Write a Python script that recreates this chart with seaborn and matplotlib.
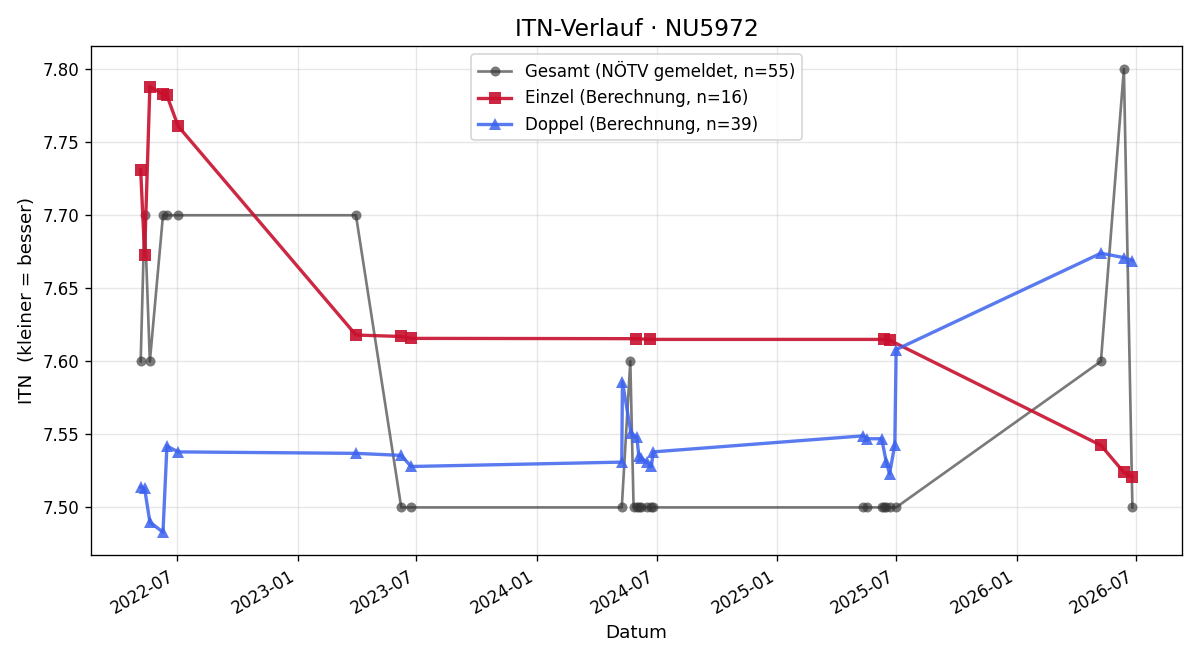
import pandas as pd
import matplotlib
matplotlib.use("Agg")
import matplotlib.pyplot as plt
import matplotlib.dates as mdates
import seaborn as sns

gesamt_dates = ["2022-05-07", "2022-05-13", "2022-05-21", "2022-06-10", "2022-06-16", "2022-07-03",
                "2023-03-31", "2023-06-08", "2023-06-23",
                "2024-05-09", "2024-05-22", "2024-05-27", "2024-06-01", "2024-06-04", "2024-06-08",
                "2024-06-16", "2024-06-22", "2024-06-26",
                "2025-05-12", "2025-05-18", "2025-06-09", "2025-06-13", "2025-06-16", "2025-06-21",
                "2025-07-01",
                "2026-05-09", "2026-06-13", "2026-06-26"]
gesamt_itn = [7.60, 7.70, 7.60, 7.70, 7.70, 7.70,
              7.70, 7.50, 7.50,
              7.50, 7.60, 7.50, 7.50, 7.50, 7.50,
              7.50, 7.50, 7.50,
              7.50, 7.50, 7.50, 7.50, 7.50, 7.50,
              7.50,
              7.60, 7.80, 7.50]

einzel_dates = ["2022-05-07", "2022-05-13", "2022-05-21", "2022-06-10", "2022-06-16", "2022-07-03",
                "2023-03-31", "2023-06-08", "2023-06-23",
                "2024-05-31", "2024-06-21",
                "2025-06-13", "2025-06-21",
                "2026-05-09", "2026-06-13", "2026-06-26"]
einzel_itn = [7.731, 7.673, 7.788, 7.783, 7.782, 7.761,
              7.618, 7.617, 7.6157,
              7.6155, 7.615,
              7.615, 7.6145,
              7.5425, 7.524, 7.521]

doppel_dates = ["2022-05-07", "2022-05-13", "2022-05-21", "2022-06-10", "2022-06-16", "2022-07-03",
                "2023-03-31", "2023-06-08", "2023-06-23",
                "2024-05-09", "2024-05-10", "2024-05-23", "2024-06-01", "2024-06-04", "2024-06-08",
                "2024-06-16", "2024-06-23", "2024-06-26",
                "2025-05-12", "2025-05-18", "2025-06-09", "2025-06-16", "2025-06-21", "2025-06-29",
                "2025-07-01",
                "2026-05-09", "2026-06-13", "2026-06-26"]
doppel_itn = [7.514, 7.513, 7.490, 7.483, 7.542, 7.538,
              7.537, 7.5356, 7.528,
              7.531, 7.586, 7.551, 7.548, 7.535, 7.534,
              7.531, 7.528, 7.538,
              7.549, 7.547, 7.547, 7.531, 7.523, 7.543,
              7.608,
              7.674, 7.671, 7.669]

df_g = pd.DataFrame({"datum": pd.to_datetime(gesamt_dates), "itn": gesamt_itn})
df_e = pd.DataFrame({"datum": pd.to_datetime(einzel_dates), "itn": einzel_itn})
df_d = pd.DataFrame({"datum": pd.to_datetime(doppel_dates), "itn": doppel_itn})

fig, ax = plt.subplots(figsize=(10, 5.5), dpi=120)

sns.lineplot(data=df_g, x="datum", y="itn", ax=ax, estimator=None, sort=False,
             color="#333333", alpha=0.65, linewidth=1.6, marker="o", markersize=6,
             markeredgewidth=0, label="Gesamt (NÖTV gemeldet, n=55)")
sns.lineplot(data=df_e, x="datum", y="itn", ax=ax, estimator=None, sort=False,
             color="#c8102e", alpha=0.9, linewidth=2.0, marker="s", markersize=7,
             markeredgewidth=0, label="Einzel (Berechnung, n=16)")
sns.lineplot(data=df_d, x="datum", y="itn", ax=ax, estimator=None, sort=False,
             color="#3d63ee", alpha=0.85, linewidth=2.0, marker="^", markersize=7,
             markeredgewidth=0, label="Doppel (Berechnung, n=39)")

ax.set_title("ITN-Verlauf · NU5972", fontsize=14)
ax.set_xlabel("Datum", fontsize=11)
ax.set_ylabel("ITN  (kleiner = besser)", fontsize=11)
ax.grid(True, alpha=0.3)
ax.xaxis.set_major_locator(mdates.MonthLocator(bymonth=[1, 7]))
ax.xaxis.set_major_formatter(mdates.DateFormatter("%Y-%m"))
ax.legend(loc="upper center")
fig.autofmt_xdate()
fig.tight_layout()
fig.savefig("out.png")
